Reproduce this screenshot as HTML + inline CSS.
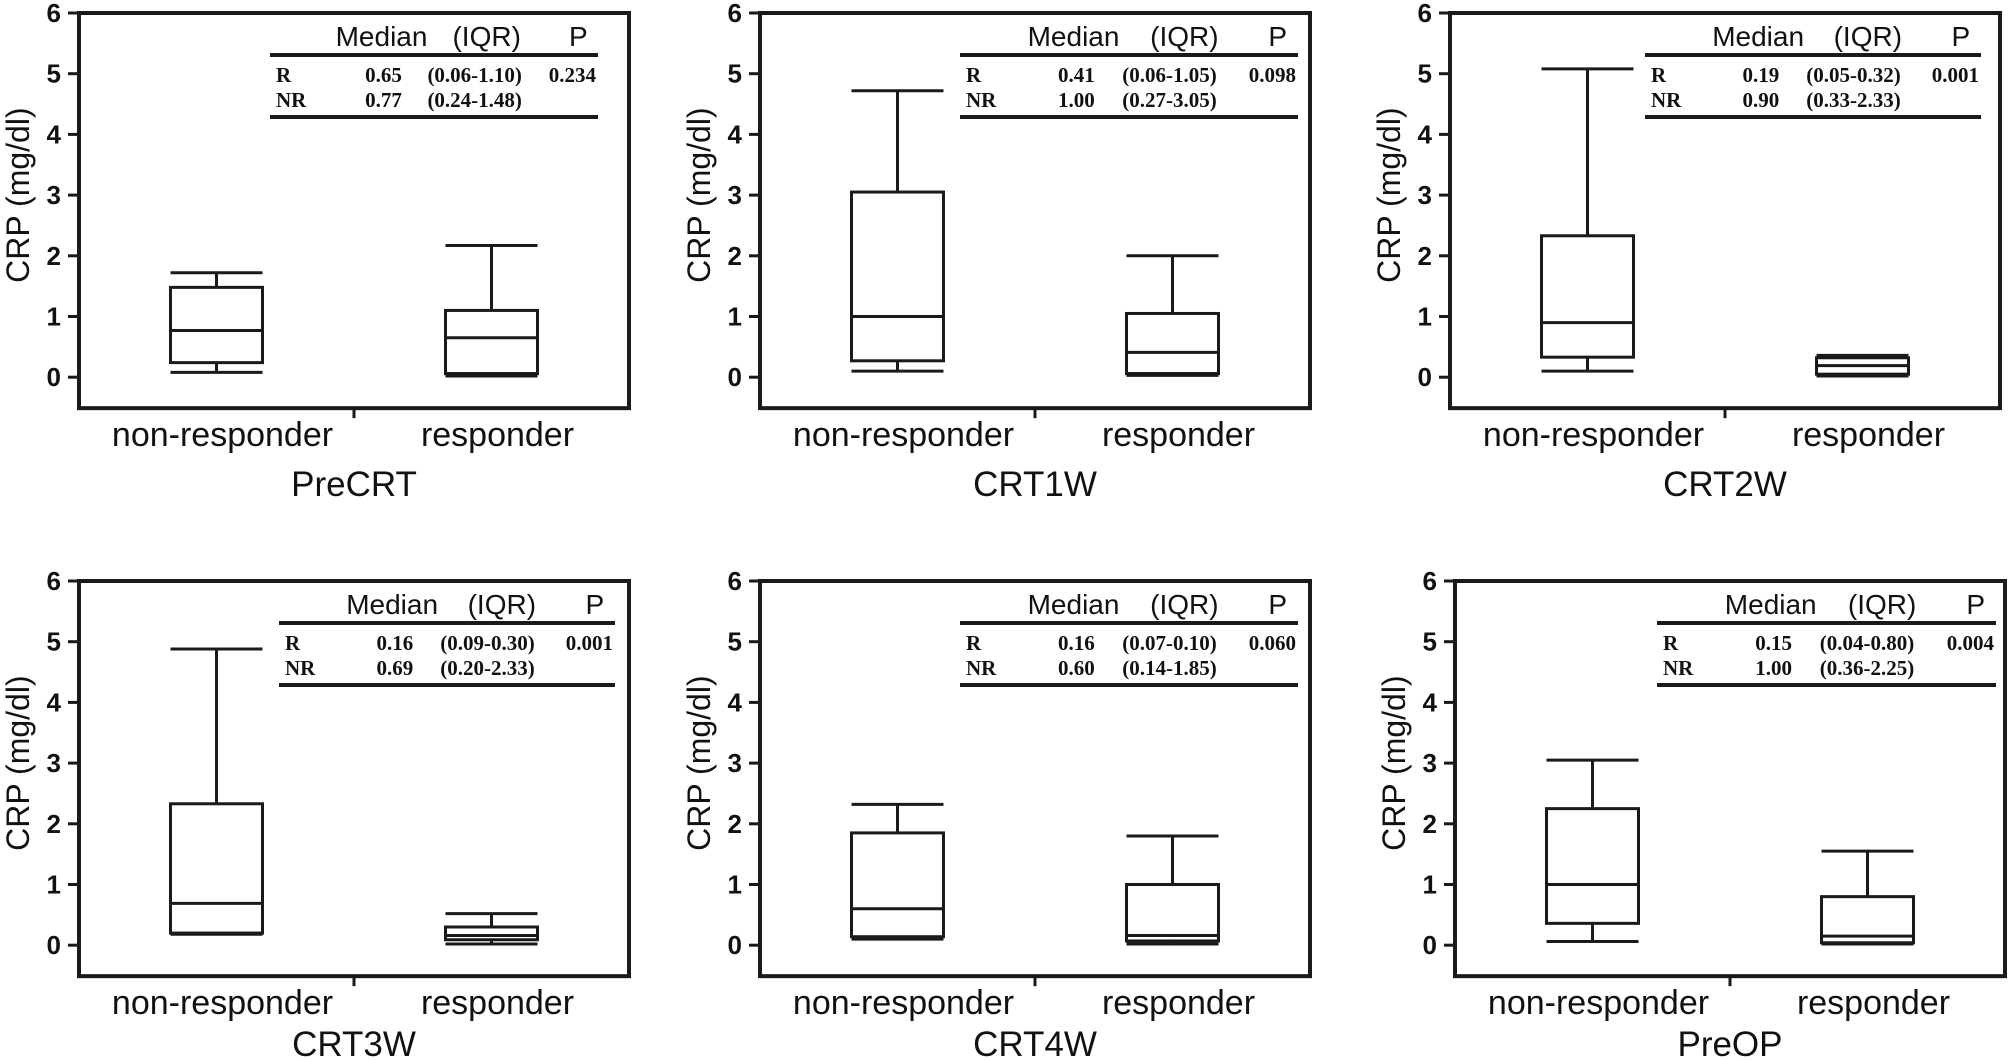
<!DOCTYPE html>
<html><head><meta charset="utf-8"><style>
html,body{margin:0;padding:0;background:#fff;}
svg{display:block;}
text{fill:#111;}
</style></head><body>
<svg id="chart" width="2008" height="1060" viewBox="0 0 2008 1060" xmlns="http://www.w3.org/2000/svg"></svg>
<script>
const panelTitles = ['PreCRT','CRT1W','CRT2W','CRT3W','CRT4W','PreOP'];
const categories = ['non-responder','responder'];
const yTicks = [0,1,2,3,4,5,6];
// non-responder box stats
const nrMin = [0.08,0.10,0.10,0.18,0.10,0.06];
const nrQ1  = [0.24,0.27,0.33,0.20,0.14,0.36];
const nrMed = [0.77,1.00,0.90,0.69,0.60,1.00];
const nrQ3  = [1.48,3.05,2.33,2.33,1.85,2.25];
const nrMax = [1.72,4.72,5.08,4.88,2.32,3.05];
// responder box stats
const rMin = [0.02,0.03,0.02,0.02,0.02,0.02];
const rQ1  = [0.06,0.06,0.05,0.09,0.07,0.04];
const rMed = [0.65,0.41,0.19,0.16,0.16,0.15];
const rQ3  = [1.10,1.05,0.32,0.30,1.00,0.80];
const rMax = [2.17,2.00,0.36,0.52,1.80,1.55];
// table text
const tblRMed = ['0.65','0.41','0.19','0.16','0.16','0.15'];
const tblRIqr = ['(0.06-1.10)','(0.06-1.05)','(0.05-0.32)','(0.09-0.30)','(0.07-0.10)','(0.04-0.80)'];
const tblNRMed = ['0.77','1.00','0.90','0.69','0.60','1.00'];
const tblNRIqr = ['(0.24-1.48)','(0.27-3.05)','(0.33-2.33)','(0.20-2.33)','(0.14-1.85)','(0.36-2.25)'];
const tblP = ['0.234','0.098','0.001','0.001','0.060','0.004'];

const NS='http://www.w3.org/2000/svg';
const svg=document.getElementById('chart');
function mk(tag,attrs,parent,txt){
  const e=document.createElementNS(NS,tag);
  for(const k in attrs) e.setAttribute(k,attrs[k]);
  if(txt!==undefined) e.textContent=txt;
  (parent||svg).appendChild(e);
  return e;
}
const axisX=[79,760,1450,79,760,1455];
const topY=[13,13,13,581,581,581];
const titleOff=[88,88,88,80,80,80];
const tblL=[191,200,195,200,200,202];
const tblW=[328,338,336,336,338,339];
const W=550, UNIT=60.7;
const STROKE='#1a1a1a';

for(let i=0;i<6;i++){
  const ax=axisX[i], t=topY[i];
  const zeroY=t+6*UNIT;
  const y=v=>zeroY-v*UNIT;
  const x=f=>ax+f*W;
  const g=mk('g',{});
  
  
  const bottom=y(-0.51);
  const frame=mk('rect',{x:ax,y:t,width:W,height:bottom-t,fill:'none',stroke:STROKE,'stroke-width':4},g);
  
  
  yTicks.forEach(v=>{
    const tk=mk('line',{x1:ax-11,x2:ax,y1:y(v),y2:y(v),stroke:STROKE,'stroke-width':3},g);
    
    
    const lb=mk('text',{x:ax-18,y:y(v)+9,'text-anchor':'end','font-family':'Liberation Sans, sans-serif','font-weight':'bold','font-size':26},g,String(v));
    
    
  });
  const xt=mk('line',{x1:x(0.5),x2:x(0.5),y1:bottom,y2:bottom+10,stroke:STROKE,'stroke-width':3},g);
  
  
  const yl=mk('text',{x:0,y:0,transform:`translate(${ax-50},${y(3)}) rotate(-90)`,'text-anchor':'middle','font-family':'Liberation Sans, sans-serif','font-size':32},g,'CRP (mg/dl)');
  
  
  categories.forEach((c,k)=>{
    const cl=mk('text',{x:x(0.25+0.5*k)+6,y:bottom+38,'text-anchor':'middle','font-family':'Liberation Sans, sans-serif','font-size':34},g,c);
    
    
  });
  const tl=mk('text',{x:x(0.5),y:bottom+titleOff[i],'text-anchor':'middle','font-family':'Liberation Sans, sans-serif','font-size':35},g,panelTitles[i]);
  
  
  const stats=[[nrMin[i],nrQ1[i],nrMed[i],nrQ3[i],nrMax[i]],[rMin[i],rQ1[i],rMed[i],rQ3[i],rMax[i]]];
  stats.forEach((s,k)=>{
    const cx=x(0.25+0.5*k), hw=46;
    const bg=mk('g',{stroke:STROKE,'stroke-width':3,fill:'none'},g);
    
    
    mk('line',{x1:cx,x2:cx,y1:y(s[3]),y2:y(s[4])},bg);
    mk('line',{x1:cx,x2:cx,y1:y(s[1]),y2:y(s[0])},bg);
    mk('line',{x1:cx-hw,x2:cx+hw,y1:y(s[4]),y2:y(s[4])},bg);
    mk('line',{x1:cx-hw,x2:cx+hw,y1:y(s[0]),y2:y(s[0])},bg);
    mk('rect',{x:cx-hw,y:y(s[3]),width:2*hw,height:y(s[1])-y(s[3])},bg);
    mk('line',{x1:cx-hw,x2:cx+hw,y1:y(s[2]),y2:y(s[2])},bg);
  });
  const L=ax+tblL[i], TW=tblW[i];
  const tg=mk('g',{},g);
  
  
  mk('line',{x1:L,x2:L+TW,y1:t+42,y2:t+42,stroke:STROKE,'stroke-width':4},tg);
  mk('line',{x1:L,x2:L+TW,y1:t+104,y2:t+104,stroke:STROKE,'stroke-width':4},tg);
  const hf={'font-family':'Liberation Sans, sans-serif','font-size':28};
  mk('text',Object.assign({x:L+TW*0.2,y:t+33},hf),tg,'Median');
  mk('text',Object.assign({x:L+TW*0.765,y:t+33,'text-anchor':'end'},hf),tg,'(IQR)');
  mk('text',Object.assign({x:L+TW*0.94,y:t+33,'text-anchor':'middle'},hf),tg,'P');
  const rf={'font-family':'Liberation Serif, serif','font-size':21,'font-weight':'bold'};
  const rows=[['R',tblRMed[i],tblRIqr[i],tblP[i]],['NR',tblNRMed[i],tblNRIqr[i],'']];
  rows.forEach((r,k)=>{
    const yy=t+69+k*25;
    mk('text',Object.assign({x:L+6,y:yy},rf),tg,r[0]);
    mk('text',Object.assign({x:L+TW*0.29,y:yy},rf),tg,r[1]);
    mk('text',Object.assign({x:L+TW*0.48,y:yy},rf),tg,r[2]);
    if(r[3]) mk('text',Object.assign({x:L+TW-2,y:yy,'text-anchor':'end'},rf),tg,r[3]);
  });
}
</script>
</body></html>
